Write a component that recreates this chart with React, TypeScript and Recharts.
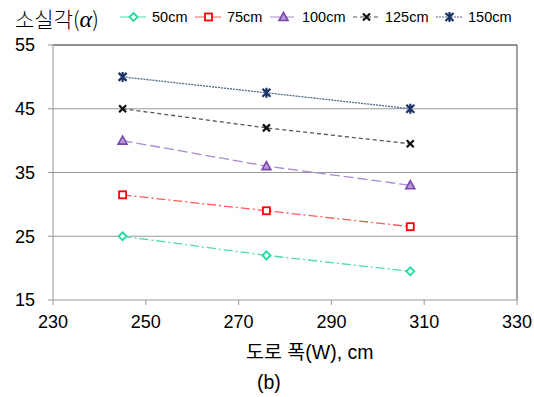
import React from "react";
import { CartesianGrid, Line, LineChart, ReferenceLine, XAxis, YAxis } from "recharts";

// road width (cm) at which each loss angle was measured
const widths = [245, 276, 307];

const angle50 = [25, 22, 19.5];
const angle75 = [31.5, 29, 26.5];
const angle100 = [40, 36, 33];
const angle125 = [45, 42, 39.5];
const angle150 = [50, 47.5, 45];

const xTicks = [230, 250, 270, 290, 310, 330];
const yTicks = [15, 25, 35, 45, 55];

const FONT = "'Liberation Sans', Arial, 'Noto Sans CJK KR', sans-serif";

type Shape = "diamond" | "square" | "triangle" | "cross" | "star";

const series = [
  { key: "s50", name: "50cm", values: angle50, line: "#4fdcb3", mark: "#22d9a0", dash: "9 3 2 3", shape: "diamond" as Shape },
  { key: "s75", name: "75cm", values: angle75, line: "#ff5a5a", mark: "#ff0000", dash: "9 3 2 3", shape: "square" as Shape },
  { key: "s100", name: "100cm", values: angle100, line: "#a88bd0", mark: "#7a48aa", dash: "10 4", shape: "triangle" as Shape },
  { key: "s125", name: "125cm", values: angle125, line: "#555555", mark: "#111111", dash: "4 3", shape: "cross" as Shape },
  { key: "s150", name: "150cm", values: angle150, line: "#55688f", mark: "#1c3366", dash: "2 1", shape: "star" as Shape },
];

const data = widths.map((w, i) => {
  const row: Record<string, number> = { w };
  series.forEach((s) => (row[s.key] = s.values[i]));
  return row;
});

function Marker({ shape, color, cx, cy }: { shape: Shape; color: string; cx: number; cy: number }) {
  if (shape === "diamond") {
    return (
      <polygon
        points={`${cx},${cy - 4} ${cx + 4},${cy} ${cx},${cy + 4} ${cx - 4},${cy}`}
        fill="#fff"
        stroke={color}
        strokeWidth={1.8}
      />
    );
  }
  if (shape === "square") {
    return <rect x={cx - 3.5} y={cy - 3.5} width={7} height={7} fill="#fff" stroke={color} strokeWidth={1.8} />;
  }
  if (shape === "triangle") {
    return (
      <polygon
        points={`${cx},${cy - 4.5} ${cx + 4.5},${cy + 3.5} ${cx - 4.5},${cy + 3.5}`}
        fill="#b79ad8"
        stroke={color}
        strokeWidth={1.6}
      />
    );
  }
  if (shape === "cross") {
    return (
      <path
        d={`M${cx - 3.5},${cy - 3.5}L${cx + 3.5},${cy + 3.5}M${cx + 3.5},${cy - 3.5}L${cx - 3.5},${cy + 3.5}`}
        stroke={color}
        strokeWidth={2.2}
      />
    );
  }
  return (
    <path
      d={`M${cx - 4},${cy - 4}L${cx + 4},${cy + 4}M${cx + 4},${cy - 4}L${cx - 4},${cy + 4}M${cx},${cy - 5}L${cx},${cy + 5}`}
      stroke={color}
      strokeWidth={2.2}
    />
  );
}

function LegendRow() {
  return (
    <>
      <div
        style={{
          position: "absolute",
          left: 15,
          top: 3,
          fontSize: 21,
          fontFamily: "'Noto Sans CJK KR', sans-serif",
          fontWeight: 300,
          color: "#000",
          whiteSpace: "nowrap",
        }}
      >
        소실각(<span style={{ fontFamily: "'Liberation Serif', serif", fontStyle: "italic", fontSize: 24 }}>α</span>)
      </div>
      <div
        style={{
          position: "absolute",
          left: 120,
          top: 9,
          display: "flex",
          alignItems: "center",
          fontFamily: FONT,
          fontSize: 14.5,
          color: "#000",
          whiteSpace: "nowrap",
        }}
      >
        {series.map((s) => (
          <span key={s.key} style={{ display: "flex", alignItems: "center", marginRight: 7.5 }}>
            <svg width={27} height={14} style={{ marginRight: 5 }}>
              <line x1={0} y1={7} x2={27} y2={7} stroke={s.line} strokeWidth={1.2} strokeDasharray={s.dash} />
              <Marker shape={s.shape} color={s.mark} cx={13.5} cy={7} />
            </svg>
            {s.name}
          </span>
        ))}
      </div>
    </>
  );
}

export default function App() {
  return (
    <div style={{ position: "absolute", left: 0, top: 0, width: 534, height: 397, background: "#fff" }}>
      <LegendRow />
      <LineChart width={534} height={397} data={data} margin={{ top: 45, right: 17, bottom: 67, left: 0 }}>
        <CartesianGrid vertical={false} stroke="#999" horizontalValues={[25, 35, 45]} />
        <XAxis
          dataKey="w"
          type="number"
          domain={[230, 330]}
          ticks={xTicks}
          height={30}
          stroke="#999"
          tickSize={5}
          tickMargin={10}
          tick={{ fontSize: 18, fill: "#000", fontFamily: FONT }}
        />
        <YAxis
          type="number"
          domain={[15, 55]}
          ticks={yTicks}
          width={53}
          stroke="#999"
          tickSize={5}
          tickMargin={13}
          tick={{ fontSize: 18, fill: "#000", fontFamily: FONT }}
        />
        <ReferenceLine y={55} stroke="#222" ifOverflow="visible" />
        <ReferenceLine x={330} stroke="#444" ifOverflow="visible" />
        {series.map((s) => (
          <Line
            key={s.key}
            dataKey={s.key}
            name={s.name}
            type="linear"
            stroke={s.line}
            strokeWidth={1.3}
            strokeDasharray={s.dash}
            isAnimationActive={false}
            dot={(p: any) => (
              <g key={`${s.key}-${p.index}`}>
                <Marker shape={s.shape} color={s.mark} cx={p.cx} cy={p.cy} />
              </g>
            )}
          />
        ))}
      </LineChart>
      <div
        style={{
          position: "absolute",
          left: 246,
          top: 336,
          fontFamily: FONT,
          fontSize: 19.5,
          color: "#000",
          whiteSpace: "nowrap",
        }}
      >
        도로 폭(W), cm
      </div>
      <div style={{ position: "absolute", left: 257, top: 371, fontFamily: FONT, fontSize: 19.5, color: "#000" }}>
        (b)
      </div>
    </div>
  );
}
